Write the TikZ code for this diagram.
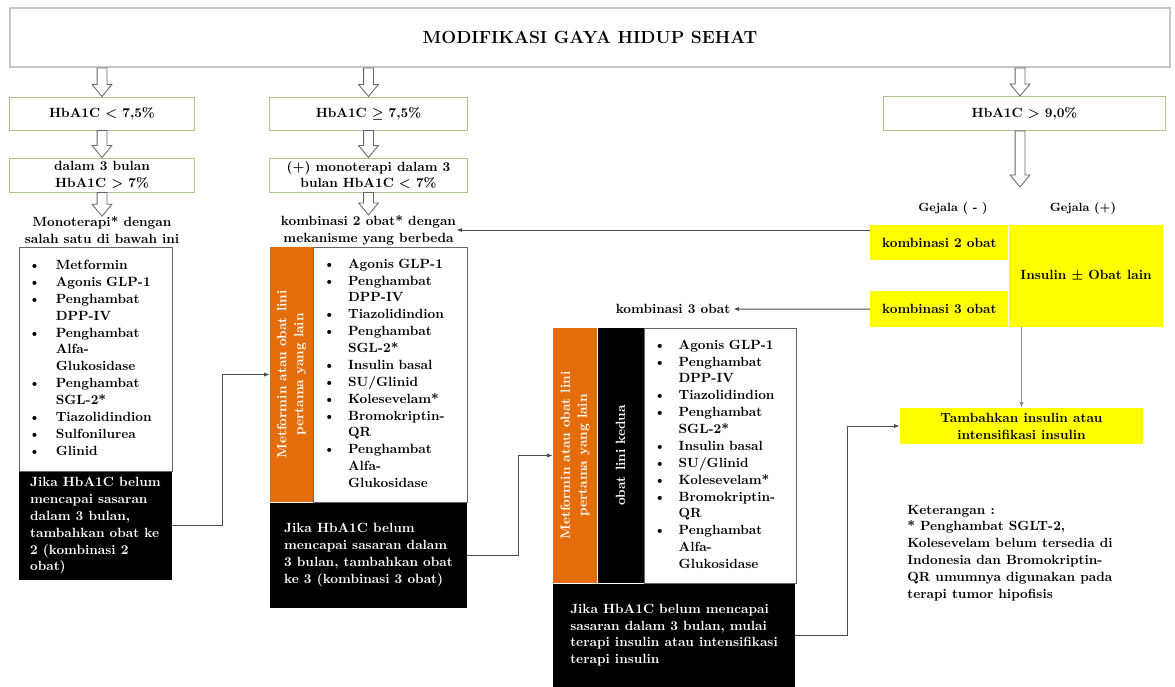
\documentclass[tikz,border=0pt]{standalone}
\usepackage{xcolor}
\usepackage{tikz}
\usetikzlibrary{arrows.meta}
\usetikzlibrary{calc}
\usetikzlibrary{positioning}

\definecolor{boxgreen}{RGB}{172,196,140}
\definecolor{stripeorange}{RGB}{228,108,10}
\definecolor{signyellow}{RGB}{255,255,0}

% fat white arrow between two points (straight down)
\newcommand{\hollowarrow}[2]{%
  \draw[hollow] let \p1=(#1), \p2=(#2) in
    (\x1-3.5pt,\y1) -- (\x1+3.5pt,\y1) -- (\x1+3.5pt,\y2+8.5pt) -- (\x1+7pt,\y2+8.5pt)
    -- (\x1,\y2) -- (\x1-7pt,\y2+8.5pt) -- (\x1-3.5pt,\y2+8.5pt) -- cycle;}

% list used in the second and third step
\newcommand{\obatlist}{%
  \begin{tabular}{@{}p{0.62cm}@{}l@{}}
    \textbullet & Agonis GLP-1\\
    \textbullet & Penghambat\\
                & DPP-IV\\
    \textbullet & Tiazolidindion\\
    \textbullet & Penghambat\\
                & SGL-2*\\
    \textbullet & Insulin basal\\
    \textbullet & SU/Glinid\\
    \textbullet & Kolesevelam*\\
    \textbullet & Bromokriptin-\\
                & QR\\
    \textbullet & Penghambat\\
                & Alfa-\\
                & Glukosidase
  \end{tabular}}

\begin{document}
\begin{tikzpicture}[x=0.025cm, y=-0.025cm,
    font=\fontsize{9.5}{12}\selectfont\bfseries,
    titlebox/.style={draw=black!22, line width=1.3pt, minimum width=29cm, minimum height=1.475cm,
      font=\fontsize{12.5}{15}\selectfont\bfseries},
    greenbox/.style={draw=boxgreen, line width=0.7pt, inner sep=1pt, align=center},
    listbox/.style={draw=black!60, fill=white, line width=0.6pt, inner xsep=0.24cm, inner ysep=0pt,
      align=left, minimum height=#1},
    blackbox/.style={fill=black, text=white, align=left, inner sep=0pt},
    orangestrip/.style={fill=stripeorange, minimum width=#1, minimum height=6.375cm, inner sep=0pt},
    yellowbox/.style={fill=signyellow, inner sep=0pt},
    hollow/.style={draw=black!60, fill=white, line width=0.6pt},
    conn/.style={draw=black!70, line width=0.7pt, -{Latex[length=4pt,width=3pt]}}
  ]

  \useasboundingbox (0,0) rectangle (1175,686);

  \node[titlebox] (title) at (590,37.5) {MODIFIKASI GAYA HIDUP SEHAT};

  % three starting columns
  \node[greenbox, minimum width=4.6cm, minimum height=0.825cm] (lo) at (102,113.5) {HbA1C < 7,5\%};
  \node[greenbox, minimum width=4.925cm, minimum height=0.825cm] (mid) at (368.5,113.5) {HbA1C {\boldmath$\geq$} 7,5\%};
  \node[greenbox, minimum width=7.025cm, minimum height=0.85cm] (hi) at (1024.5,113.5) {HbA1C > 9,0\%};

  \node[greenbox, minimum width=4.6cm, minimum height=0.85cm] (lo2) at (102,175) {dalam 3 bulan\\HbA1C > 7\%};
  \node[greenbox, minimum width=4.925cm, minimum height=0.85cm] (mid2) at (368.5,175) {(+) monoterapi dalam 3\\bulan HbA1C < 7\%};

  \node[align=center, inner sep=0pt] (lotext) at (102,230) {Monoterapi* dengan\\salah satu di bawah ini};
  \node[align=center, inner sep=0pt] (midtext) at (368.5,230) {kombinasi 2 obat* dengan\\mekanisme yang berbeda};

  \coordinate (gej) at (1020,187);

  \hollowarrow{title.south -| lo.north}{lo.north}
  \hollowarrow{title.south -| mid.north}{mid.north}
  \hollowarrow{title.south -| gej}{hi.north -| gej}
  \hollowarrow{lo.south}{lo2.north}
  \hollowarrow{mid.south}{mid2.north}
  \hollowarrow{lo2.south}{lotext.north}
  \hollowarrow{mid2.south}{midtext.north}
  \hollowarrow{hi.south -| gej}{gej}

  % first step: monotherapy
  \node[listbox=5.6cm, text width=3.345cm] (llist) at (95.5,359) {%
    \begin{tabular}{@{}p{0.68cm}@{}l@{}}
      \textbullet & Metformin\\
      \textbullet & Agonis GLP-1\\
      \textbullet & Penghambat\\
                  & DPP-IV\\
      \textbullet & Penghambat\\
                  & Alfa-\\
                  & Glukosidase\\
      \textbullet & Penghambat\\
                  & SGL-2*\\
      \textbullet & Tiazolidindion\\
      \textbullet & Sulfonilurea\\
      \textbullet & Glinid
    \end{tabular}};
  \node[blackbox, anchor=north west, minimum width=3.825cm, minimum height=2.7cm] (lblack) at (llist.south west)
    {Jika HbA1C belum\\mencapai sasaran\\dalam 3 bulan,\\tambahkan obat ke\\2 (kombinasi 2\\obat)};

  % second step: two drugs
  \node[orangestrip=1.075cm] (morange) at (291.5,374.5) {};
  \node[rotate=90, text=white, align=center, inner sep=0pt] (mrot) at (morange.center) {Metformin atau obat lini\\pertama yang lain};
  \node[listbox=6.375cm, text width=3.37cm, right=0pt of morange] (mlist) {\obatlist};
  \node[blackbox, anchor=north west, minimum width=4.925cm, minimum height=2.625cm] (mblack) at (morange.south west)
    {Jika HbA1C belum\\mencapai sasaran dalam\\3 bulan, tambahkan obat\\ke 3 (kombinasi 3 obat)};

  % third step: three drugs
  \node[orangestrip=1.1cm] (torange) at (575,455.5) {};
  \node[rotate=90, text=white, align=center, inner sep=0pt] (trot) at (torange.center) {Metformin atau obat lini\\pertama yang lain};
  \node[orangestrip=1.15cm, fill=black, right=0pt of torange] (tstrip) {};
  \node[rotate=90, text=white, inner sep=0pt] (tkedua) at (tstrip.center) {obat lini kedua};
  \node[listbox=6.375cm, text width=3.32cm, right=0pt of tstrip] (tlist) {\obatlist};
  \node[blackbox, anchor=north west, minimum width=6.05cm, minimum height=2.575cm] (tblack) at (torange.south west)
    {Jika HbA1C belum mencapai\\sasaran dalam 3 bulan, mulai\\terapi insulin atau intensifikasi\\terapi insulin};

  \node[inner sep=2pt] (k3txt) at (673,309) {kombinasi 3 obat};

  % HbA1C > 9,0%
  \node[font=\fontsize{8.5}{10}\selectfont\bfseries] (gneg) at (953,209) {Gejala ( - )};
  \node[font=\fontsize{8.5}{10}\selectfont\bfseries] (gpos) at (1083,209) {Gejala (+)};

  \node[yellowbox, minimum width=3.85cm, minimum height=2.55cm] (ins) at (1086,276) {Insulin {\boldmath$\pm$} Obat lain};
  \node[yellowbox, anchor=north east, minimum width=3.45cm, minimum height=0.875cm, align=left] (k2) at (ins.north west) {kombinasi 2 obat};
  \node[yellowbox, anchor=south east, minimum width=3.45cm, minimum height=0.9cm, align=left] (k3) at (ins.south west) {kombinasi 3 obat};

  \node[yellowbox, minimum width=6.075cm, minimum height=0.9cm, align=center] (tamb) at (1021.5,426)
    {Tambahkan insulin atau\\intensifikasi insulin};

  \node[anchor=west, align=left, inner sep=0pt] (ket) at (907,553)
    {Keterangan :\\* Penghambat SGLT-2,\\Kolesevelam belum tersedia di\\Indonesia dan Bromokriptin-\\QR umumnya digunakan pada\\terapi tumor hipofisis};

  % connectors
  \draw[conn] (lblack.east) -- ++(50,0) |- (morange.west);
  \draw[conn] (mblack.east) -- ++(51,0) |- (torange.west);
  \draw[conn] (tblack.east) -- ++(52,0) |- (tamb.west);
  \draw[conn] (k2.west |- midtext.east) -- (midtext.east);
  \draw[conn] (k3.west) -- (k3txt.east);
  \draw[conn, draw=black!45] (tamb.north |- ins.south) -- (tamb.north);

\end{tikzpicture}
\end{document}
